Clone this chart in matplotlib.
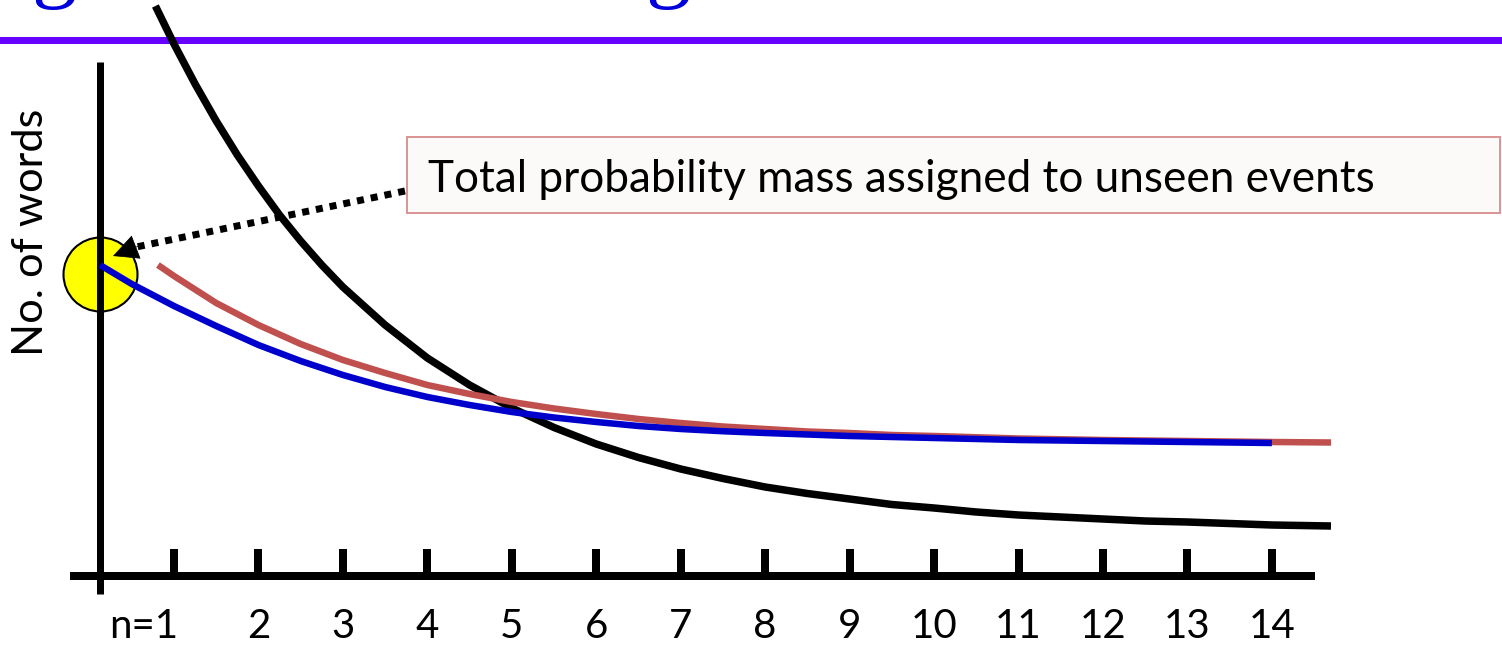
import matplotlib
matplotlib.use("Agg")
import matplotlib.pyplot as plt
from matplotlib.patches import Rectangle

# ---------------- data (n = frequency count, y = no. of words, arbitrary units) ----------------
tick_positions = list(range(1, 15))
tick_labels = ["n=1"] + [str(i) for i in range(2, 15)]

black_n = [0.78, 1, 1.25, 1.5, 1.75, 2, 2.25, 2.5, 2.75, 3, 3.5, 4, 4.5, 5, 5.5, 6, 6.5,
           7, 7.5, 8, 8.5, 9, 9.5, 10, 10.5, 11, 11.5, 12, 12.5, 13, 13.5, 14, 14.7]
black_y = [11.40, 10.64, 9.84, 9.10, 8.42, 7.80, 7.22, 6.70, 6.22, 5.78, 5.02, 4.36, 3.82,
           3.36, 2.97, 2.64, 2.37, 2.14, 1.95, 1.78, 1.65, 1.54, 1.43, 1.36, 1.28, 1.22,
           1.18, 1.14, 1.10, 1.08, 1.05, 1.02, 1.00]

red_n = [0.81, 1, 1.5, 2, 2.5, 3, 3.5, 4, 4.5, 5, 5.5, 6, 6.5, 7, 7.5, 8, 8.5, 9, 9.5,
         10, 11, 12, 13, 14, 14.7]
red_y = [6.22, 6.00, 5.46, 5.02, 4.64, 4.32, 4.06, 3.82, 3.64, 3.48, 3.35, 3.24, 3.14,
         3.06, 2.99, 2.94, 2.89, 2.86, 2.82, 2.80, 2.75, 2.72, 2.70, 2.68, 2.67]

blue_n = [0.124, 0.5, 1, 1.5, 2, 2.5, 3, 3.5, 4, 4.5, 5, 5.5, 6, 6.5, 7, 7.5, 8, 8.5, 9,
          9.5, 10, 11, 12, 13, 14]
blue_y = [6.22, 5.84, 5.40, 5.00, 4.62, 4.30, 4.02, 3.78, 3.58, 3.42, 3.28, 3.17, 3.08,
          3.00, 2.94, 2.895, 2.86, 2.83, 2.80, 2.78, 2.76, 2.72, 2.70, 2.68, 2.66]

unseen_n, unseen_y = 0.124, 6.04
ylabel_text = "No. of words"
note_text = "Total probability mass assigned to unseen events"

# ---------------- figure ----------------
W, H, DPI = 1502, 646, 100
fig = plt.figure(figsize=(W / DPI, H / DPI), dpi=DPI)
ax = fig.add_axes([0, 0, 1, 1])
ax.set_xlim(-1.0604, 16.725)
ax.set_ylim(-1.4, 11.52)
ax.axis("off")

PX = 0.72  # points per pixel
FONT = "Lato"

# purple header rule
ax.axhline(10.73, color="#6600FF", lw=7 * PX, zorder=1)

# cut-off title descenders
for xn in (-0.421, 6.85):
    ax.text(xn, 11.70, "g", family="Liberation Serif", fontsize=65, color="#0000DD",
            ha="center", va="baseline", clip_on=False, zorder=1)

# axes lines
x_axis_left, x_axis_right = -0.2315, 14.51
ax.plot([x_axis_left, x_axis_right], [0, 0], color="black", lw=8 * PX,
        solid_capstyle="butt", zorder=3)
ax.vlines(tick_positions, 0, 0.54, color="black", lw=8 * PX, zorder=3)

# unseen-event circle (under the axis line)
ax.scatter([unseen_n], [unseen_y], s=(74 * PX) ** 2, color="#FFFF00",
           edgecolor="black", linewidth=1.5, zorder=2)
ax.plot([unseen_n, unseen_n], [-0.36, 10.28], color="black", lw=7 * PX,
        solid_capstyle="butt", zorder=3)

# curves
ax.plot(black_n, black_y, color="black", lw=7.5 * PX, zorder=4, solid_capstyle="butt",
        solid_joinstyle="round")
ax.plot(red_n, red_y, color="#C0504D", lw=6.5 * PX, zorder=5, solid_capstyle="butt",
        solid_joinstyle="round")
ax.plot(blue_n, blue_y, color="#0000CC", lw=6.5 * PX, zorder=6, solid_capstyle="butt",
        solid_joinstyle="round")

# tick labels
for p, lab in zip(tick_positions, tick_labels):
    if lab.startswith("n="):
        ax.text(p + 0.05, -1.02, lab, family=FONT, fontsize=29, ha="right", va="center")
    else:
        ax.text(p, -1.02, lab, family=FONT, fontsize=29, ha="center", va="center")

# y label
ylab = ax.text(-0.693, 6.88, ylabel_text, family=FONT, fontsize=30, rotation=90,
               ha="center", va="center")

# note box
ax.add_patch(Rectangle((3.759, 7.26), 16.70 - 3.759, 8.78 - 7.26, facecolor="#FBFAF9",
                       edgecolor="#D99694", lw=2 * PX, zorder=7))
note = ax.text(4.006, 7.68, note_text, family=FONT, fontsize=30, ha="left",
               va="baseline", zorder=8)

# dotted arrow to the circle
ax.plot([3.735, 0.553], [7.70, 6.58], color="black", lw=7 * PX,
        linestyle=(0, (1, 1)), zorder=8)
ax.annotate("", xy=(0.278, 6.40), xytext=(0.60, 6.61),
            arrowprops=dict(arrowstyle="-|>,head_length=17,head_width=8.5",
                            mutation_scale=1, color="black", lw=0.5,
                            shrinkA=0, shrinkB=0), zorder=9)

# fit text widths to the reference
fig.canvas.draw()
r = fig.canvas.get_renderer()
wb = note.get_window_extent(r).width
note.set_fontsize(30 * 947 / wb)
hb = ylab.get_window_extent(r).height
ylab.set_fontsize(30 * 247 / hb)

fig.savefig("out.png", dpi=DPI, facecolor="white")
